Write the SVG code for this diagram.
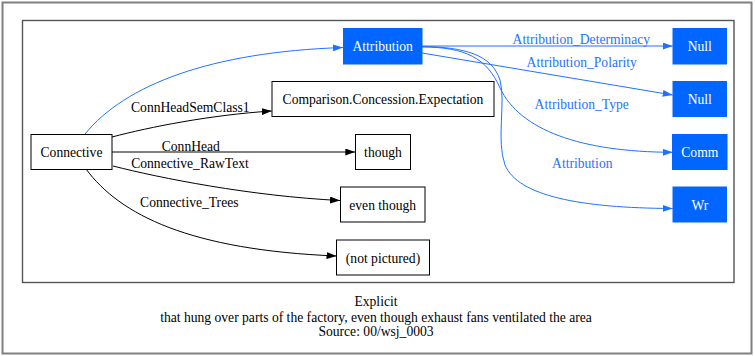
<svg xmlns="http://www.w3.org/2000/svg" width="755" height="356" viewBox="0 0 755 356">
<defs>
<style>
text{font-family:"Liberation Serif","Times New Roman",serif;font-size:13.6px}
.n rect{fill:#fff;stroke:#000;stroke-width:1}
.n text{fill:#000;text-anchor:middle}
.b rect{fill:#0066ff;stroke:#0066ff;stroke-width:1}
.b text{fill:#fff;text-anchor:middle}
.e{fill:none;stroke:#000;stroke-width:1}
.eb{fill:none;stroke:#1f72ff;stroke-width:1}
.lb{fill:#000;text-anchor:middle}
.lbb{fill:#1f72ff;text-anchor:middle}
.cap{fill:#000;text-anchor:middle}
</style>
<marker id="ak" markerUnits="userSpaceOnUse" markerWidth="10" markerHeight="7" refX="10" refY="3.5" orient="auto"><path d="M0,0 L10,3.5 L0,7 z" fill="#000"/></marker>
<marker id="ab" markerUnits="userSpaceOnUse" markerWidth="10" markerHeight="7" refX="10" refY="3.5" orient="auto"><path d="M0,0 L10,3.5 L0,7 z" fill="#1f72ff"/></marker>
</defs>
<rect x="0" y="0" width="755" height="356" fill="#fff"/>
<rect x="2.5" y="2.5" width="749" height="351" fill="none" stroke="#808080" stroke-width="2"/>
<rect x="22.5" y="20.5" width="711.5" height="262" fill="none" stroke="#555" stroke-width="1.4"/>

<g id="connectors">
<path class="eb" d="M85,134 C125,85 210,52 343,47.5" marker-end="url(#ab)"/>
<path class="e" d="M112,137 C150,127 210,115 271.7,111" marker-end="url(#ak)"/>
<path class="e" d="M112,152 L355.3,152" marker-end="url(#ak)"/>
<path class="e" d="M113,166 C160,178 250,196 340,200.5" marker-end="url(#ak)"/>
<path class="e" d="M86,169 C120,215 190,250 336.5,256" marker-end="url(#ak)"/>
<path class="eb" d="M422,46 L672.7,46" marker-end="url(#ab)"/>
<path class="eb" d="M422,53 L672.7,95" marker-end="url(#ab)"/>
<path class="eb" d="M422,47 C465,47 487,58 500,88 C520,130 580,152 672.7,152.3" marker-end="url(#ab)"/>
<path class="eb" d="M422,46.5 C465,47 492,55 500,80 C506,102 496,140 505,165 C518,196 580,208 672.7,208.5" marker-end="url(#ab)"/>
<text class="lb" x="190.3" y="112">ConnHeadSemClass1</text>
<text class="lb" x="190.8" y="150.5">ConnHead</text>
<text class="lb" x="190" y="168">Connective_RawText</text>
<text class="lb" x="189.3" y="206.5">Connective_Trees</text>
<text class="lbb" x="581.3" y="44.3">Attribution_Determinacy</text>
<text class="lbb" x="581.7" y="66.7">Attribution_Polarity</text>
<text class="lbb" x="581.7" y="109">Attribution_Type</text>
<text class="lbb" x="582.3" y="168.3">Attribution</text>
</g>

<g id="n_connective" class="n"><rect x="31" y="134.5" width="81" height="35"/><text x="71.5" y="157">Connective</text></g>
<g id="n_attribution" class="b"><rect x="343.5" y="28.5" width="78.5" height="35.5"/><text x="382.7" y="51">Attribution</text></g>
<g id="n_comparison" class="n"><rect x="272" y="81.5" width="222" height="35"/><text x="383" y="104">Comparison.Concession.Expectation</text></g>
<g id="n_though" class="n"><rect x="355.5" y="134.5" width="55" height="35"/><text x="383" y="157">though</text></g>
<g id="n_eventhough" class="n"><rect x="340.5" y="187" width="84.5" height="35"/><text x="382.7" y="209.5">even though</text></g>
<g id="n_notpictured" class="n"><rect x="336.5" y="240" width="93" height="35"/><text x="383" y="262.5">(not pictured)</text></g>
<g id="n_null1" class="b"><rect x="673" y="28.5" width="53.5" height="35.5"/><text x="699.8" y="51">Null</text></g>
<g id="n_null2" class="b"><rect x="673" y="81.5" width="53.5" height="35"/><text x="699.8" y="104">Null</text></g>
<g id="n_comm" class="b"><rect x="672.5" y="134.5" width="54.5" height="35"/><text x="699.8" y="157">Comm</text></g>
<g id="n_wr" class="b"><rect x="673" y="187" width="53.5" height="35"/><text x="699.8" y="209.5">Wr</text></g>

<g id="caption">
<text class="cap" x="376" y="306">Explicit</text>
<text class="cap" x="376" y="321.5">that hung over parts of the factory, even though exhaust fans ventilated the area</text>
<text class="cap" x="376" y="335.5">Source: 00/wsj_0003</text>
</g>
</svg>
